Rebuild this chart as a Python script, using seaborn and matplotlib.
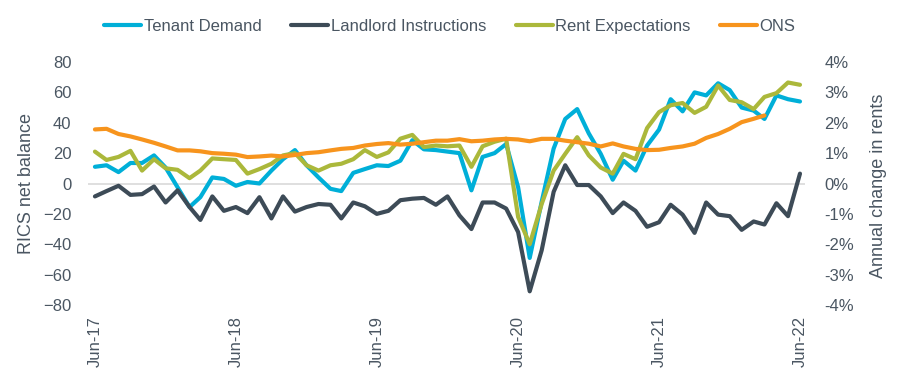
import pandas as pd
import numpy as np
import matplotlib
matplotlib.use("Agg")
import matplotlib.pyplot as plt
import matplotlib.dates as mdates
from matplotlib.ticker import FuncFormatter
import seaborn as sns

# monthly, Jun-17 .. Jun-22
months = pd.date_range("2017-06-01", periods=61, freq="MS")

tenant_demand = [11, 12, 7.5, 13.5, 13.5, 18.5, 10.5, -2.5, -15.5, -9, 4, 3, -1.5, 1, 0,
                 8.5, 16, 22, 12, 4, -3.5, -5, 7, 9.5, 12, 11.5, 15, 28.5, 22.5, 22, 21,
                 20, -4.5, 17.5, 20, 26, -2.5, -49, -12, 23, 42.5, 49, 33, 19.5, 2.5, 15,
                 8.5, 25, 35.5, 55.5, 47.5, 60, 58, 66, 61.5, 50, 48, 42.5, 58, 55.5, 54]
landlord_instructions = [-8.5, -5, -1.5, -7.5, -7, -2, -12.5, -4.5, -15.5, -24, -8.5, -18,
                         -15.5, -19.5, -9, -23, -8.5, -18.5, -15.5, -13.5, -14, -23, -12.5,
                         -15, -20, -18, -11, -10, -9.5, -14, -8.5, -21, -30, -12.5, -12.5,
                         -16.5, -32, -71, -44, -5.5, 12, -1, -1, -8.5, -19.5, -12.5, -18,
                         -28.5, -25.5, -14, -20.5, -32.5, -12.5, -20.5, -21.5, -30.5, -25,
                         -27, -13, -21.5, 6.5]
rent_expectations = [21, 15.5, 17.5, 21.5, 8.5, 16, 10, 9, 3.5, 8.5, 16.5, 16, 15.5, 6.5,
                     9.5, 13, 18.5, 20, 12, 8.5, 12, 13, 16, 22, 17.5, 20.5, 29.5, 32,
                     24, 25, 24.5, 25, 11, 24.5, 27.5, 29.5, -22, -40, -13.5, 8.5, 19.5,
                     30.5, 18.5, 10.5, 6.5, 19.5, 16, 36.5, 47, 51.5, 53, 46.5, 50.5, 64.5,
                     55, 53.5, 49, 57, 59.5, 66.5, 65]
ons = [1.78, 1.80, 1.63, 1.55, 1.45, 1.34, 1.22, 1.09, 1.09, 1.06, 1.00, 0.98, 0.95, 0.87,
       0.89, 0.92, 0.89, 0.94, 1.00, 1.03, 1.09, 1.14, 1.17, 1.25, 1.30, 1.33, 1.28, 1.31,
       1.36, 1.41, 1.41, 1.46, 1.39, 1.41, 1.45, 1.47, 1.45, 1.39, 1.47, 1.47, 1.41, 1.36,
       1.31, 1.22, 1.32, 1.22, 1.14, 1.10, 1.11, 1.17, 1.22, 1.31, 1.50, 1.63, 1.80, 2.02,
       2.13, 2.24, np.nan, np.nan, np.nan]

df = pd.DataFrame({"Month": months,
                   "Tenant Demand": tenant_demand,
                   "Landlord Instructions": landlord_instructions,
                   "Rent Expectations": rent_expectations,
                   "ONS": ons})

sns.set_style("white")
plt.rcParams["font.family"] = ["Liberation Sans", "DejaVu Sans"]
txt = "#4a5662"

fig = plt.figure(figsize=(9, 3.8), dpi=100)
ax = fig.add_axes([88 / 900, 1 - 305 / 380, 717 / 900, 243 / 380])
ax2 = ax.twinx()

ax.axhline(0, color="#d9d9d9", lw=1.2, zorder=0)

colors = {"Tenant Demand": "#00afd8", "Landlord Instructions": "#3d4b57",
          "Rent Expectations": "#abb83b", "ONS": "#f7941d"}

for name in ["Tenant Demand", "Landlord Instructions", "Rent Expectations"]:
    sns.lineplot(data=df, x="Month", y=name, ax=ax, color=colors[name], lw=3,
                 label=name, legend=False, solid_capstyle="round")
sns.lineplot(data=df, x="Month", y="ONS", ax=ax2, color=colors["ONS"], lw=3,
             label="ONS", legend=False, solid_capstyle="round")

ax.set_ylim(-80, 80)
ax.set_yticks(range(-80, 81, 20))
ax2.set_ylim(-4, 4)
ax2.set_yticks(range(-4, 5, 1))
ax2.yaxis.set_major_formatter(FuncFormatter(lambda v, p: f"{v:.0f}%"))

ax.set_xlim(months[0] - pd.Timedelta(days=18), months[-1] + pd.Timedelta(days=13))
ax.xaxis.set_major_locator(mdates.MonthLocator(bymonth=6))
ax.xaxis.set_major_formatter(mdates.DateFormatter("%b-%y"))

for a in (ax, ax2):
    for s in a.spines.values():
        s.set_visible(False)
    a.tick_params(length=0, labelsize=12, colors=txt)
ax.tick_params(axis="x", rotation=90, pad=8)
ax.tick_params(axis="y", pad=12)
ax2.tick_params(axis="y", pad=14)

ax.set_xlabel("")
ax.set_ylabel("RICS net balance", fontsize=13, color=txt)
ax.yaxis.set_label_coords(-0.074, 0.5)
ax2.set_ylabel("Annual change in rents", fontsize=13, color=txt)
ax2.yaxis.set_label_coords(1.091, 0.49)

h1, l1 = ax.get_legend_handles_labels()
h2, l2 = ax2.get_legend_handles_labels()
leg = fig.legend(h1 + h2, l1 + l2, loc="upper center", bbox_to_anchor=(0.5, 0.99),
                 ncol=4, frameon=False, fontsize=12, handlelength=2.2,
                 handletextpad=0.15, columnspacing=1.8)
for t in leg.get_texts():
    t.set_color(txt)

fig.savefig("out.png", dpi=100)
